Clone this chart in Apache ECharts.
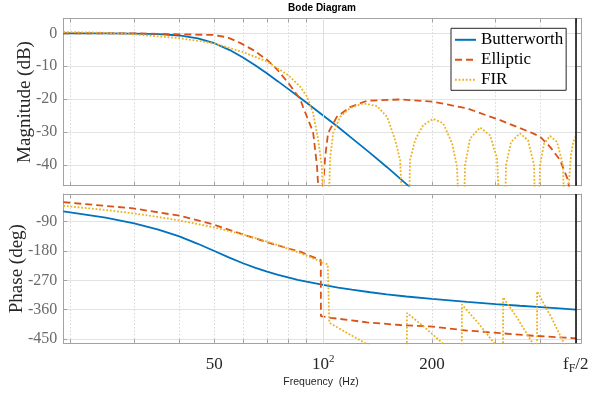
<!DOCTYPE html>
<html><head><meta charset="utf-8">
<script src="https://cdn.jsdelivr.net/npm/echarts@6/dist/echarts.min.js"></script>
<style>html,body{margin:0;padding:0;background:#fff}#c{width:593px;height:397px}</style>
</head><body><div id="c"></div>
<script>
// ---- axis ticks ----
const freqTicks = [20,30,40,50,60,70,80,90,100,200,300,400,500];
const freqLabels = [50,100,200,500];
const magTicks = [-40,-30,-20,-10,0];
const phaseTicks = [-450,-360,-270,-180,-90];

// ---- Butterworth ----
const bwFreq  = [19.1,25,30,35,40,45,50,55,60,65,70,75,80,85,90,100,110,120,135,150,170,200,250,300,350,400,450,500];
const bwMag   = [0,-0.02,-0.07,-0.24,-0.66,-1.54,-3.01,-5.02,-7.35,-9.8,-12.24,-14.61,-16.88,-19.04,-21.11,-24.98,-28.48,-31.84,-36.39,-40.6,-45.8,-52.9,-64,-75.1,-87.5,-103,-128,-200];
const bwPhase = [-58,-77.4,-95.1,-114.3,-135.3,-157.8,-180,-200.3,-217.5,-231.7,-243.4,-253.1,-261.2,-268.2,-274.2,-284.2,-292,-298.6,-306.5,-312.8,-319.6,-327.1,-336.2,-342.7,-347.9,-352.3,-356.2,-360];

// ---- Elliptic ----
const elMagFreq = [19.1,29.8,40.2,49.6,54.3,58.9,64.1,70,74.6,80,86.4,88,90.3,93.8,96.2,97.3,98.3,99.5,101.3,103.2,109.1,118.8,132.3,163.3,201.5,250.2,308.7,380.9,398.2,424.5,452.3,476.1,490,500];
const elMag     = [0,0,-0.3,-0.5,-1.2,-2.9,-5.1,-8.1,-11,-15,-20,-22.4,-25.5,-30,-40.5,-50,-80,-50,-37.6,-30.3,-25.4,-22.4,-20.5,-20.1,-20.8,-22.8,-26.4,-30.4,-31.4,-34.5,-38.5,-44.6,-55,-100];
const elPhFreq  = [19.1,29.8,40.2,49.6,58.9,70,80,86.4,92,98.5,98.6,105,120,132.3,163.3,201.5,250,308.7,380.9,470,500];
const elPhase   = [-30,-49,-72,-98,-126,-153,-172,-182,-195,-208,-380,-385,-393,-399,-407,-412,-424,-432,-440,-446,-448];

// ---- FIR ----
const firMagFreq = [19.1,24.2,29.8,40.2,49.6,59.7,70,80,86.4,90.3,93.8,96.9,99.2,101.7,104.6,106.6,111.4,118.8,129,141,150.3,158.2,163.3,170.4,174,179.7,189.1,201.5,214.7,227.4,234.7,241.9,247,255,271.8,289.6,302.9,314.6,320.7,331.1,350.6,368.9,383.3,390.7,398.2,408.6,424.5,443.7,461,471,478,485,492,500];
const firMag     = [0.4,0.2,-0.3,-1.5,-3,-5.6,-8.6,-12.7,-16.2,-19.3,-24.3,-32.4,-40.6,-80,-37.6,-30.3,-25.4,-22.7,-21.3,-22.1,-25.4,-32.4,-38.5,-80,-38.5,-32.4,-27.9,-26,-27.3,-33.4,-40.6,-80,-40,-32,-28.6,-31,-38,-80,-40,-33,-30.4,-32.5,-40,-80,-40,-33.5,-31.2,-33,-40,-80,-46,-37,-33,-31.4];
const firPhFreq  = [19.1,25,30,35,40,45,50,55,60,65,70,75,80,85,90,95,100,103,104,115,131,170.4,170.6,190,214,241.9,242.1,270,299,314.6,314.8,345,380,390.7,390.9,430,467,471,471.2,500];
const firPhase   = [-41.3,-54,-64.8,-75.6,-86.4,-97.2,-108,-118.8,-129.6,-140.4,-151.2,-162,-172.8,-183.6,-194.4,-205.2,-216,-221,-400,-428,-463,-548,-370,-412,-463,-524,-344,-404,-466,-501,-322,-387,-463,-486,-304,-388,-470,-477,-657,-720];

const zip = (a,b) => a.map((v,i)=>[v,b[i]]);
const BLUE='#0072BD', RED='#D95319', YEL='#EDB120';
const axisColor='#a3a3a3';
const serif='"Liberation Serif","Times New Roman",serif';
const sans='"Liberation Sans",Arial,sans-serif';

function xAx(grid,pos,labels){
  return {type:'log',logBase:10,gridIndex:grid,position:pos,min:19.1,max:517,
    axisLine:{show:true,onZero:false,lineStyle:{color:axisColor,width:1}},
    axisTick:{show:true,inside:true,length:4,customValues:freqTicks,lineStyle:{color:axisColor}},
    minorTick:{show:false},
    axisLabel:{show:labels,customValues:freqLabels,margin:10,
      formatter:function(v){const r=Math.round(v); if(r===100) return '{n|10}{sup|2}'; if(r===500) return '{n|f}{sub|F}{n|/2}'; return '{n|'+r+'}';},
      rich:{n:{fontFamily:serif,fontSize:17,color:'#262626',lineHeight:22},
            sup:{fontFamily:serif,fontSize:11,color:'#262626',lineHeight:11,verticalAlign:'top'},
            sub:{fontFamily:serif,fontSize:12,color:'#262626',lineHeight:12,verticalAlign:'bottom'}}},
    splitLine:{show:pos==='bottom',lineStyle:{color:'#d6d6d6',width:1,type:[1.5,2]}}
  };
}
function yAx(grid,pos,min,max,ticks,labels,name,gap){
  return {type:'value',gridIndex:grid,position:pos,min:min,max:max,
    axisLine:{show:true,onZero:false,lineStyle:{color:axisColor,width:1}},
    axisTick:{show:true,inside:true,length:4,customValues:ticks,lineStyle:{color:axisColor}},
    axisLabel:{show:labels,customValues:ticks,color:'#6b6b6b',fontFamily:serif,fontSize:16,margin:6},
    splitLine:{show:pos==='left',lineStyle:{color:'#e3e3e3',width:1}},
    name:labels?name:'',nameLocation:'middle',nameGap:gap||29,nameRotate:90,nameMoveOverlap:false,
    nameTextStyle:{fontFamily:serif,fontSize:19,color:'#262626'}
  };
}
function gridLines(xi,yi){
  return {type:'line',xAxisIndex:xi,yAxisIndex:yi,data:[],z:1,silent:true,
    markLine:{silent:true,symbol:['none','none'],label:{show:false},animation:false,
      lineStyle:{color:'#dedede',width:1,type:'solid'},data:[{xAxis:100}]}};
}
function nyq(xi,yi){
  return {type:'line',xAxisIndex:xi,yAxisIndex:yi,data:[],z:6,silent:true,
    markLine:{silent:true,symbol:['none','none'],label:{show:false},animation:false,
      lineStyle:{color:'#000',width:1.5,type:'solid'},data:[{xAxis:500}]}};
}
function ser(name,xi,yi,data,color,type,width){
  return {name:name,type:'line',xAxisIndex:xi,yAxisIndex:yi,data:data,symbol:'none',showSymbol:false,
    clip:true,z:3,lineStyle:{color:color,width:width,type:type},itemStyle:{color:color}};
}

const chart = echarts.init(document.getElementById('c'));
chart.setOption({
  animation:false,
  backgroundColor:'#fff',
  grid:[{left:63.3,top:18.3,width:517.7,height:167.4,containLabel:false,outerBoundsMode:'none'},
        {left:63.3,top:194,width:517.7,height:149.3,containLabel:false,outerBoundsMode:'none'}],
  xAxis:[xAx(0,'bottom',false),xAx(0,'top',false),xAx(1,'bottom',true),xAx(1,'top',false)],
  yAxis:[yAx(0,'left',-46.3,4.56,magTicks,true,'Magnitude (dB)',29),yAx(0,'right',-46.3,4.56,magTicks,false,''),
         yAx(1,'left',-463.2,-5,phaseTicks,true,'Phase (deg)',37),yAx(1,'right',-463.2,-5,phaseTicks,false,'')],
  legend:{data:['Butterworth','Elliptic','FIR'],orient:'vertical',left:451,top:28.3,padding:[3,3,2,3],
    itemGap:3,itemWidth:21,itemHeight:17,backgroundColor:'#fff',borderColor:'#262626',borderWidth:1,borderRadius:0,
    itemStyle:{color:'rgba(0,0,0,0)',borderWidth:0,opacity:0},
    textStyle:{fontFamily:serif,fontSize:17,color:'#000'}},
  graphic:[
    {type:'text',style:{text:'Bode Diagram',x:322,y:8,align:'center',verticalAlign:'middle',fontFamily:sans,fontSize:10,fontWeight:'bold',fill:'#000'}},
    {type:'text',style:{text:'Frequency  (Hz)',x:321,y:382,align:'center',verticalAlign:'middle',fontFamily:sans,fontSize:10.5,fill:'#262626'}}
  ],
  series:[
    gridLines(0,0),gridLines(2,2),
    ser('Butterworth',0,0,zip(bwFreq,bwMag),BLUE,'solid',1.8),
    ser('Elliptic',0,0,zip(elMagFreq,elMag),RED,[7,4],1.8),
    ser('FIR',0,0,zip(firMagFreq,firMag),YEL,[1.8,1.8],1.8),
    ser('Butterworth',2,2,zip(bwFreq,bwPhase),BLUE,'solid',1.8),
    ser('Elliptic',2,2,zip(elPhFreq,elPhase),RED,[7,4],1.8),
    ser('FIR',2,2,zip(firPhFreq,firPhase),YEL,[1.8,1.8],1.8),
    nyq(0,0),nyq(2,2)
  ]
});
</script></body></html>
